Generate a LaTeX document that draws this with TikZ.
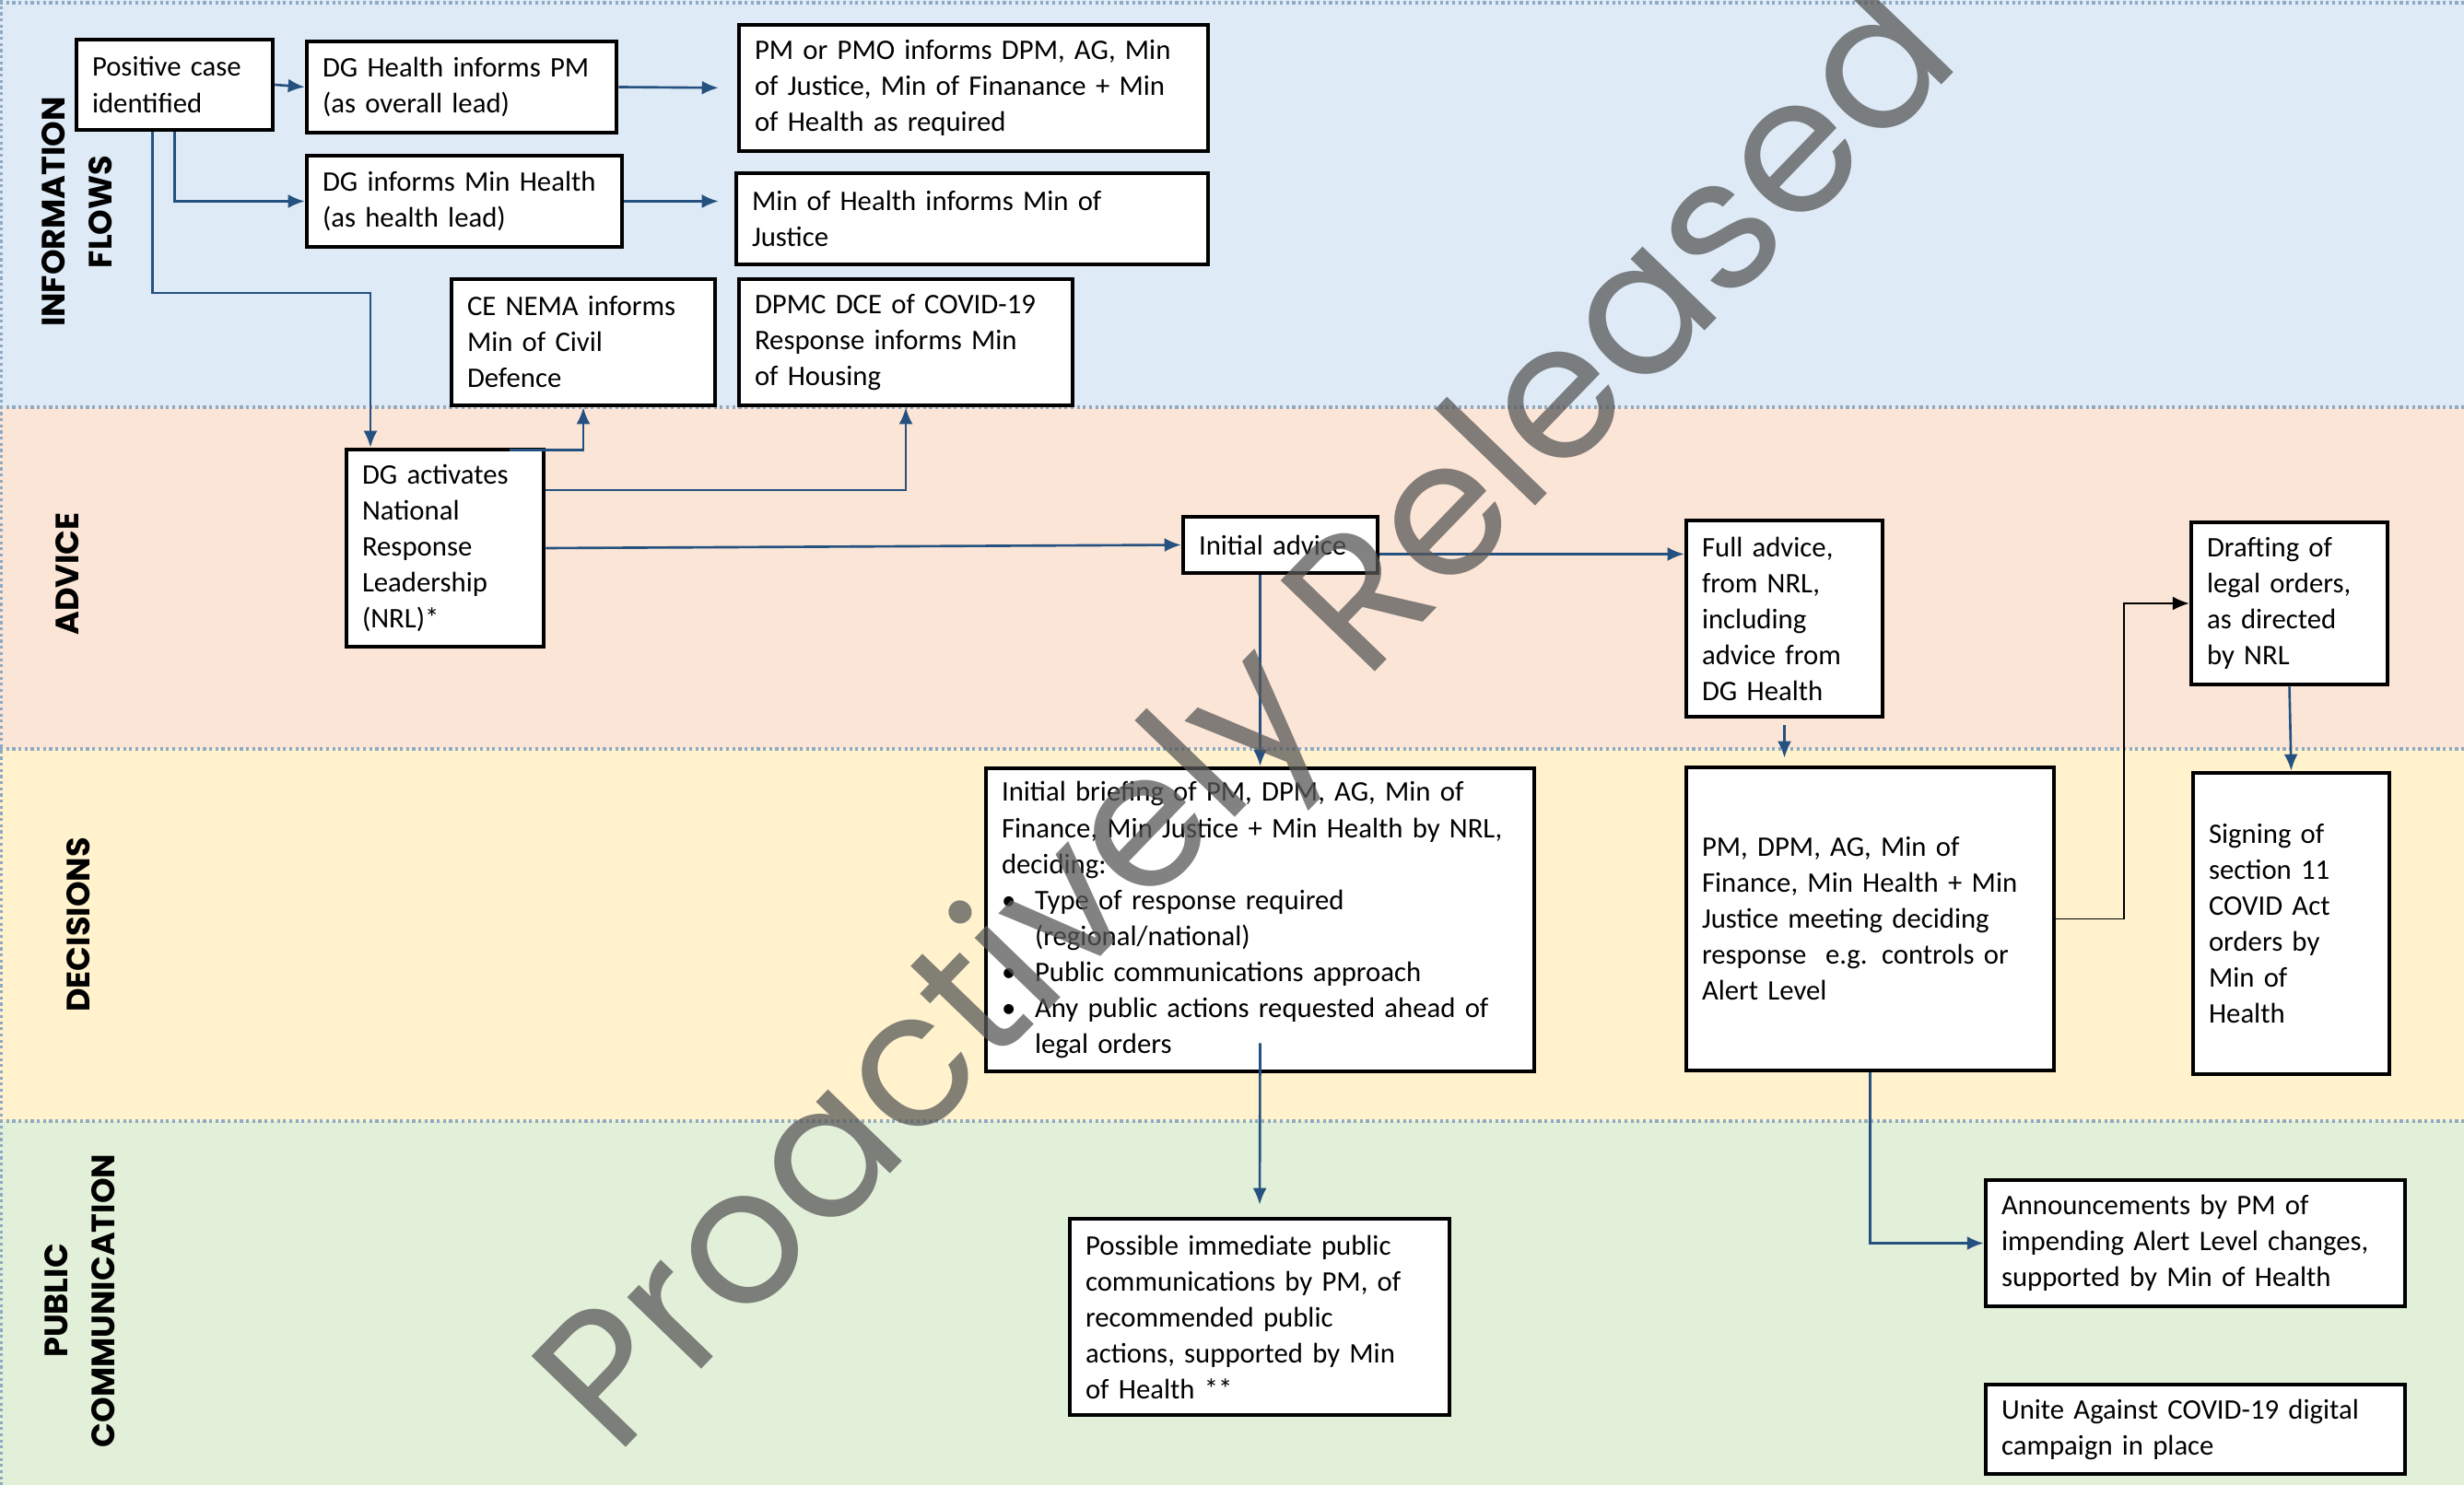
\documentclass[tikz,border=0pt]{standalone}
\usepackage{fontspec}
\setmainfont{Carlito}
\newfontfamily\lanefont{Poppins}
\usepackage{tikz}
\usetikzlibrary{arrows.meta}
\usetikzlibrary{calc}
\definecolor{infobg}{HTML}{DEEBF7}
\definecolor{advbg}{HTML}{FBE5D6}
\definecolor{decbg}{HTML}{FFF2CC}
\definecolor{pubbg}{HTML}{E2F0D9}
\definecolor{laneedge}{RGB}{143,170,195}
\definecolor{flowblue}{RGB}{37,81,128}
\newcommand{\boxfont}{\fontsize{8.75}{11.1}\selectfont\hyphenpenalty=10000}
\newcommand{\briefitem}{\makebox[0.36cm][l]{\textbullet}}
\tikzstyle{box}=[
        draw,
        rectangle,
        line width=1.3pt,
        fill=white,
        inner xsep=0.17cm,
        inner ysep=0pt,
        align=left,
        font=\boxfont
]
\tikzstyle{lanelabel}=[rotate=90,align=center,
font=\lanefont\bfseries\fontsize{10}{14.5}\selectfont]
\tikzstyle{laneline}=[draw=laneedge,line width=0.9pt,densely dotted]
\tikzstyle{flow}=[->,>={Latex[length=1.8mm,width=1.5mm]},draw=flowblue,line width=0.75pt]
\tikzstyle{flowblack}=[flow,draw=black,line width=0.5pt]
\tikzstyle{watermark}=[rotate=46,anchor=base,text=black!65,text opacity=0.75,
font=\lanefont\fontsize{58}{58}\selectfont]

\begin{document}
\begin{tikzpicture}
\useasboundingbox (0,0) rectangle (26.74,-16.12);
%lanes
\fill[infobg] (0,0) rectangle (26.74,-4.42);
\fill[advbg] (0,-4.42) rectangle (26.74,-8.13);
\fill[decbg] (0,-8.13) rectangle (26.74,-12.17);
\fill[pubbg] (0,-12.17) rectangle (26.74,-16.12);
\foreach \y in {-0.03,-4.42,-8.13,-12.17}
  \draw[laneline] (0,\y) -- (26.74,\y);
\draw[laneline] (0.01,0) -- (0.01,-16.12);
\node[lanelabel] (lbinfo) at (0.835,-2.30) {INFORMATION\\FLOWS};
\node[lanelabel] (lbadv) at (0.73,-6.23) {ADVICE};
\node[lanelabel] (lbdec) at (0.85,-10.04) {DECISIONS};
\node[lanelabel] (lbpub) at (0.865,-14.12) {PUBLIC\\COMMUNICATION};
%boxes
\node[box,text width=1.79cm,minimum height=0.98cm] (pos) at (1.895,-0.92) {Positive case\\identified};
\node[box,text width=3.02cm,minimum height=0.99cm] (dgpm) at (5.01,-0.945) {DG Health informs PM\\(as overall lead)};
\node[box,text width=4.75cm,minimum height=1.37cm] (pmo) at (10.565,-0.955) {PM or PMO informs DPM, AG, Min\\of Justice, Min of Finanance + Min\\of Health as required};
\node[box,text width=3.08cm,minimum height=0.99cm] (dgmh) at (5.04,-2.185) {DG informs Min Health\\(as health lead)};
\node[box,text width=4.78cm,minimum height=0.99cm] (mhmj) at (10.55,-2.375) {Min of Health informs Min of\\Justice};
\node[box,text width=2.52cm,minimum height=1.37cm] (nema) at (6.33,-3.715) {CE NEMA informs\\Min of Civil\\Defence};
\node[box,text width=3.28cm,minimum height=1.37cm] (dpmc) at (9.83,-3.715) {DPMC DCE of COVID-19\\Response informs Min\\of Housing};
\node[box,text width=1.80cm,minimum height=2.14cm] (nrl) at (4.83,-5.95) {DG activates\\National\\Response\\Leadership\\(NRL)*};
\node[box,text width=1.77cm,minimum height=0.61cm] (init) at (13.895,-5.915) {Initial advice};
\node[box,text width=1.79cm,minimum height=2.13cm] (full) at (19.365,-6.715) {Full advice,\\from NRL,\\including\\advice from\\DG Health};
\node[box,text width=1.79cm,minimum height=1.76cm] (draft) at (24.845,-6.55) {Drafting of\\legal orders,\\as directed\\by NRL};
\node[box,text width=5.61cm,minimum height=3.29cm] (brief) at (13.675,-9.985) {Initial briefing of PM, DPM, AG, Min of\\Finance, Min Justice + Min Health by NRL,\\deciding:\\\briefitem Type of response required\\\hspace*{0.36cm}(regional/national)\\\briefitem Public communications approach\\\briefitem Any public actions requested ahead of\\\hspace*{0.36cm}legal orders};
\node[box,text width=3.65cm,minimum height=3.29cm] (meet) at (20.295,-9.975) {PM, DPM, AG, Min of\\Finance, Min Health + Min\\Justice meeting deciding\\response\ \ e.g. controls or\\Alert Level};
\node[box,text width=1.79cm,minimum height=3.27cm] (sign) at (24.865,-10.025) {Signing of\\section 11\\COVID Act\\orders by\\Min of\\Health};
\node[box,text width=3.78cm,minimum height=2.13cm] (poss) at (13.67,-14.295) {Possible immediate public\\communications by PM, of\\recommended public\\actions, supported by Min\\of Health **};
\node[box,text width=4.21cm,minimum height=1.37cm] (ann) at (23.825,-13.495) {Announcements by PM of\\impending Alert Level changes,\\supported by Min of Health};
\node[box,text width=4.21cm,minimum height=0.97cm] (unite) at (23.825,-15.515) {Unite Against COVID-19 digital\\campaign in place};
%arrows
\coordinate (nrlbend) at (4.02,-3.18);
\draw[flow] (pos.east) -- (dgpm.west);
\draw[flow,shorten >=2mm] (dgpm.east) -- (pmo.west);
\draw[flow] (pos.south) |- (dgmh.west);
\draw[flow] ([xshift=-2.4mm]pos.south) |- (nrlbend) -- (nrlbend |- nrl.north);
\draw[flow,shorten >=1.7mm] (dgmh.east) -- (dgmh.east -| mhmj.west);
\draw[flow] ([xshift=-3.9mm,yshift=-0.3mm]nrl.north east) -| (nema.south);
\draw[flow] ([yshift=6.3mm]nrl.east) -| (dpmc.south);
\draw[flow] (nrl.east) -- (init.west);
\draw[flow] ([yshift=-1mm]init.east) -- ([yshift=-1mm]init.east -| full.west);
\draw[flow] (brief.north |- init.south) -- (brief.north);
\draw[flow,shorten <=0.7mm,shorten >=0.8mm] (full.south) -- (full.south |- meet.north);
\draw[flow] (draft.south) -- (sign.north);
\draw[flowblack] (meet.east) -- ++(0.74,0) |- (draft.west);
\draw[flow,shorten >=1.3mm] ([yshift=3.3mm]brief.south) -- (poss.north);
\draw[flow] (meet.south) |- (ann.west);
%watermark
\node[watermark] (wm) at (14.00,-8.25) {Proactively Released};
\end{tikzpicture}
\end{document}
